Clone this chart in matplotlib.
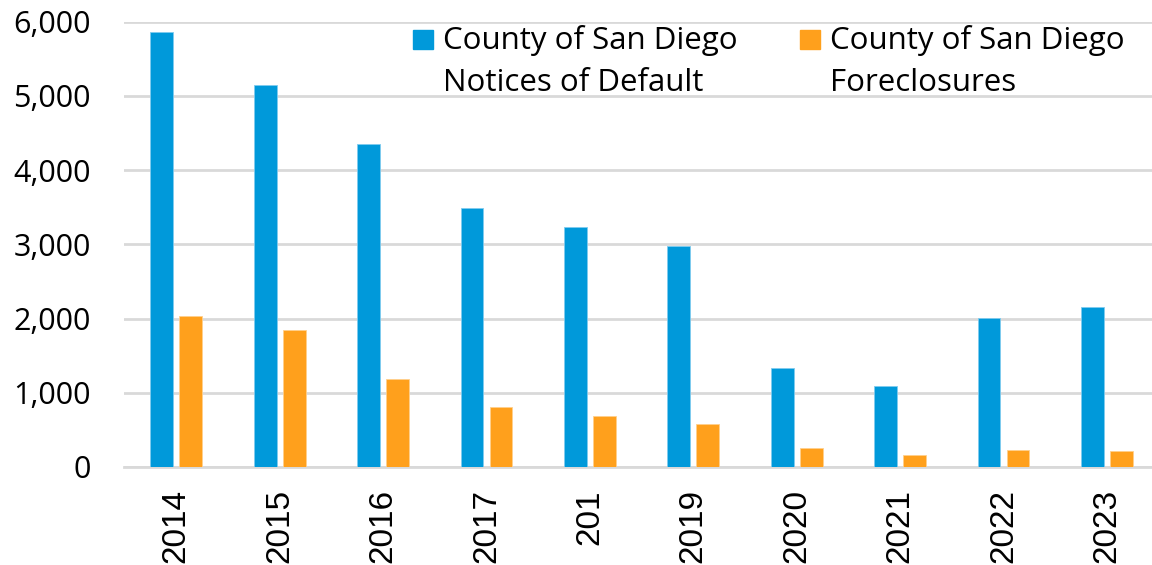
import matplotlib
matplotlib.use("Agg")
from matplotlib import pyplot as plt
from matplotlib.patches import Rectangle
import numpy as np

# values
years = ["2014", "2015", "2016", "2017", "201", "2019", "2020", "2021", "2022", "2023"]
notices_of_default = [5858, 5144, 4353, 3493, 3238, 2973, 1330, 1097, 2009, 2153]
foreclosures = [2036, 1852, 1191, 809, 683, 575, 261, 166, 234, 211]
legend_labels = [["County of San Diego", "Notices of Default"],
                 ["County of San Diego", "Foreclosures"]]

blue = "#0099DA"
orange = "#FFA01C"
W, H = 1152, 565

fig = plt.figure(figsize=(W / 100, H / 100), dpi=100)
ax = fig.add_axes([124 / W, (H - 467) / H, (W - 124) / W, (467 - 21.7) / H])

x = np.arange(len(years))
w = 0.22
ax.bar(x - 0.14, notices_of_default, width=w, color=blue, edgecolor="#7FCBEF", linewidth=0.6, zorder=3)
ax.bar(x + 0.14, foreclosures, width=w, color=orange, edgecolor="#FFD08C", linewidth=0.6, zorder=3)

ax.set_xlim(-0.506, 9.436)
ax.set_ylim(0, 6000)
ax.set_yticks(range(0, 6001, 1000))
ax.set_yticklabels([f"{v:,}" for v in range(0, 6001, 1000)], fontfamily="Open Sans", fontsize=22)
ax.set_xticks(x)
ax.set_xticklabels(years, rotation=90, fontfamily="Liberation Sans", fontsize=24)
ax.tick_params(axis="y", length=0, pad=24)
ax.tick_params(axis="x", length=0, pad=16)

ax.grid(axis="y", color="#D9D9D9", linewidth=2, zorder=0)
for s in ["top", "right", "left"]:
    ax.spines[s].set_visible(False)
ax.spines["bottom"].set_color("#D9D9D9")
ax.spines["bottom"].set_linewidth(2)

# legend drawn by hand: marker sits next to the first line, as in the reference
for colour, lines, x0 in zip([blue, orange], legend_labels, [413, 800]):
    fig.patches.append(Rectangle((x0 / W, (H - 49.3) / H), 20 / W, 19 / H,
                                 transform=fig.transFigure, color=colour, zorder=5))
    for i, line in enumerate(lines):
        fig.text((x0 + 30) / W, (H - 49.3 - i * 42) / H, line, fontfamily="Open Sans",
                 fontsize=22.5, va="baseline", ha="left", zorder=5)

fig.savefig("out.png", dpi=100)
